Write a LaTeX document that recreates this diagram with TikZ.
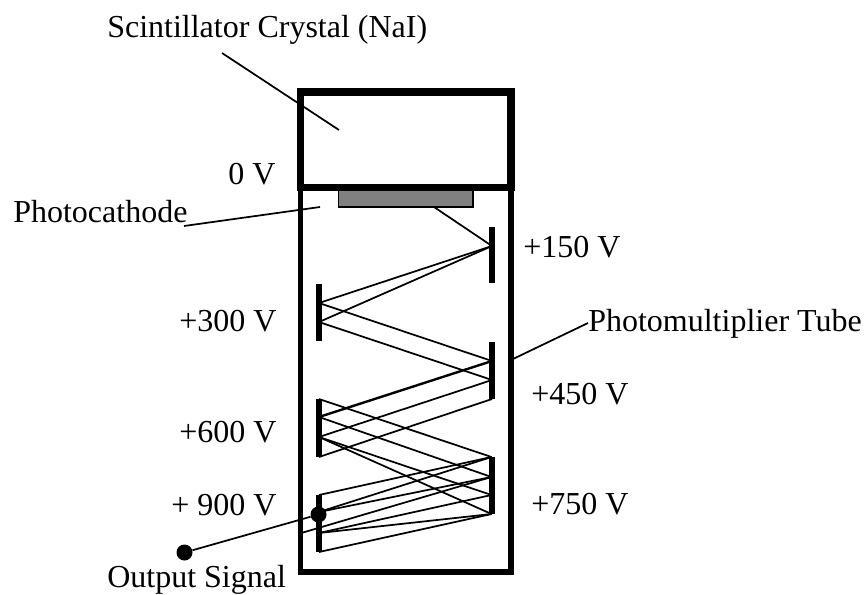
\documentclass[tikz,border=0pt]{standalone}
\usepackage{fontspec}
\setmainfont{Liberation Serif}
\definecolor{cathodegray}{RGB}{128,128,128}

\tikzset{
  label text/.style={inner sep=0pt,anchor=base west,font=\fontsize{24pt}{29pt}\selectfont},
  wall/.style={line width=5.4pt},
  dynode/.style={line width=4.5pt},
  ray/.style={line width=1.3pt},
  leader/.style={line width=1.3pt},
}

\begin{document}
\begin{tikzpicture}[x=0.75pt,y=-0.75pt]
  \useasboundingbox (0,0) rectangle (865,594);
  % tube walls
  \coordinate (CTL) at (300.5,92);
  \coordinate (CTR) at (511,92);
  \coordinate (CBL) at (300.5,187.5);
  \coordinate (CBR) at (511,187.5);
  \coordinate (TBL) at (300.5,572);
  \coordinate (TBR) at (511,572);
  \draw[line width=4.2pt,line join=miter] (CBL) -- (TBL) -- (TBR) -- (CBR);
  \draw[wall] (CTL) -- (CTR) -- (CBR) -- (CBL) -- cycle;
  % photocathode
  \coordinate (PA) at (338.5,190);
  \coordinate (PB) at (473,207);
  \draw[fill=cathodegray,line width=0.9pt] (PA) rectangle (PB);
  % dynodes
  \coordinate (D1T) at (492,227);
  \coordinate (D1B) at (492,283);
  \coordinate (D2T) at (319,284);
  \coordinate (D2B) at (319,341);
  \coordinate (D3T) at (492,342);
  \coordinate (D3B) at (492,399);
  \coordinate (D4T) at (319,399);
  \coordinate (D4B) at (319,457);
  \coordinate (D5T) at (491.5,457);
  \coordinate (D5B) at (491.5,514);
  \coordinate (D6T) at (319,495);
  \coordinate (D6B) at (319,552);
  \foreach \d in {1,...,6}
    \draw[dynode] (D\d T) -- (D\d B);
  % hit points
  \coordinate (K) at (434,207);
  \coordinate (H1) at (492,246);
  \coordinate (H2a) at (319,303);
  \coordinate (H2b) at (319,322);
  \coordinate (H3a) at (492,361);
  \coordinate (H3b) at (492,380);
  \coordinate (H4a) at (319,417);
  \coordinate (H4b) at (319,437);
  \coordinate (H5a) at (491.5,477);
  \coordinate (H5b) at (491.5,495);
  \coordinate (H6a) at (319,512);
  \coordinate (H6b) at (319,533);
  \coordinate (W) at (303,532.5);
  % electron paths
  \draw[ray] (K) -- (H1);
  \draw[ray] (H1) -- (H2a) -- (H3a);
  \draw[ray] (H1) -- (H2b) -- (H3b);
  \draw[line width=1.8pt] (H3a) -- (H4a);
  \draw[ray] (H3b) -- (H4b);
  \draw[ray] (D3B) -- (D4B);
  \draw[ray] (D4T) -- (D5T);
  \draw[ray] (H4a) -- (H5a);
  \draw[ray] (H4b) -- (H5b);
  \draw[ray] (H4b) -- (D5B);
  \draw[ray] (D5T) -- (D6T);
  \draw[ray] (D5T) -- (H6a);
  \draw[ray] (H5a) -- (H6a);
  \draw[ray] (H5a) -- (W);
  \draw[ray] (H5b) -- (H6b);
  \draw[ray] (D5B) -- (H6b);
  \draw[ray] (D5B) -- (D6B);
  % signal
  \node[circle,fill=black,inner sep=0pt,minimum size=12pt] (anode) at (318.5,514.5) {};
  \node[circle,fill=black,inner sep=0pt,minimum size=12pt] (output) at (184.5,552.5) {};
  \draw[leader] (output) -- (anode);
  % labels
  \node[label text] (crystal) at (107,37) {Scintillator Crystal (NaI)};
  \node[label text] (zero) at (228,184) {0 V};
  \node[label text] (cathode) at (13,222) {Photocathode};
  \node[label text] (v150) at (523,257) {+150 V};
  \node[label text] (v300) at (179,331) {+300 V};
  \node[label text] (v450) at (531,404) {+450 V};
  \node[label text] (v600) at (179,442) {+600 V};
  \node[label text] (v900) at (171,515) {+ 900 V};
  \node[label text] (v750) at (531,514) {+750 V};
  \node[label text] (signal) at (107,587) {Output Signal};
  \node[label text] (tube) at (588,331) {Photomultiplier Tube};
  % leaders
  \coordinate (crystalEnd) at (222,53);
  \coordinate (crystalIn) at (339,130);
  \coordinate (cathodeEnd) at (184,226);
  \coordinate (cathodeIn) at (320,207);
  \coordinate (tubeEnd) at (588,323);
  \coordinate (tubeWall) at (513,359);
  \draw[leader] (crystalEnd) -- (crystalIn);
  \draw[leader] (cathodeEnd) -- (cathodeIn);
  \draw[leader] (tubeEnd) -- (tubeWall);
\end{tikzpicture}
\end{document}
